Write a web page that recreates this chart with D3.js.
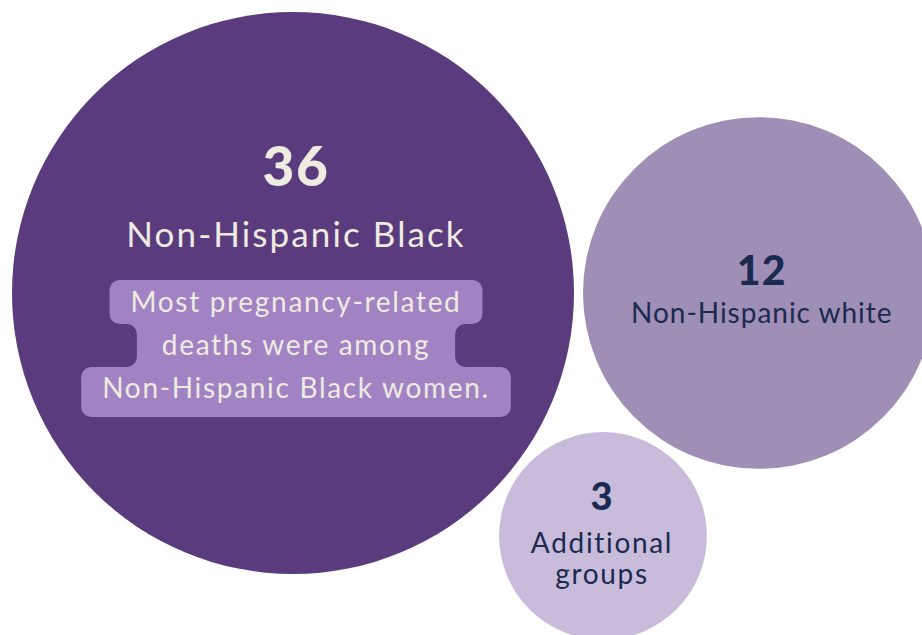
<!DOCTYPE html>
<html>
<head>
<meta charset="utf-8">
<script src="https://cdn.jsdelivr.net/npm/d3@7"></script>
<style>
  html, body { margin: 0; padding: 0; background: #ffffff; }
  svg { display: block; }
  text { font-family: Lato, "Noto Sans", sans-serif; }
  .num { letter-spacing: 0.03em; }
</style>
</head>
<body>
<svg id="chart" width="922" height="635"></svg>
<script>
// Pregnancy-related deaths by race/ethnicity
const groups = ["Non-Hispanic Black", "Non-Hispanic white", "Additional groups"];
const deaths = [36, 12, 3];
const labelLines = [["Non-Hispanic Black"], ["Non-Hispanic white"], ["Additional", "groups"]];
const calloutLines = ["Most pregnancy-related", "deaths were among", "Non-Hispanic Black women."];

const fills = ["#5a3b7d", "#9f8eb5", "#c9bcdb"];
const inks = ["#eeebe0", "#1b2a50", "#1b2a50"];
const calloutFill = "#a183c4";

(function draw() {
  const svg = d3.select("#chart");
  const margin = 12, gap = 9;

  // Bubble radius
  const r = d3.scaleSqrt().domain([0, d3.max(deaths)]).range([32, 281]);

  // Place bubbles: largest at top-left, second to its right, third nestled below between them
  const radii = deaths.map(r);
  const c0 = { x: margin + radii[0], y: margin + radii[0] };
  const c1 = { x: c0.x + radii[0] + radii[1] + gap, y: c0.y };
  const d02 = radii[0] + radii[2] + gap;
  const d12 = radii[1] + radii[2] + gap;
  const d01 = c1.x - c0.x;
  const a = (d02 * d02 - d12 * d12 + d01 * d01) / (2 * d01);
  const h = Math.sqrt(d02 * d02 - a * a);
  const c2 = { x: c0.x + a, y: c0.y + h };
  const centers = [c0, c1, c2];

  const nodes = deaths.map((v, i) => ({
    group: groups[i], value: v, r: radii[i], x: centers[i].x, y: centers[i].y,
    fill: fills[i], ink: inks[i], lines: labelLines[i]
  }));

  svg.selectAll("circle.bubble")
    .data(nodes)
    .join("circle")
    .attr("class", "bubble")
    .attr("cx", d => d.x)
    .attr("cy", d => d.y)
    .attr("r", d => d.r)
    .attr("fill", d => d.fill);

  // Number and group label placement per bubble (offsets from centre)
  const textSpec = [
    { dx: 3, numDy: -107, numSize: 55, labDy: [-46], labSize: 35, track: "0.06em" },
    { dx: 3, numDy: -8, numSize: 41, labDy: [30], labSize: 28, track: "0.035em" },
    { dx: -1, numDy: -26, numSize: 38, labDy: [17, 48], labSize: 28, track: "0.06em" }
  ];

  const g = svg.selectAll("g.label")
    .data(nodes)
    .join("g")
    .attr("class", "label")
    .attr("transform", (d, i) => `translate(${d.x + textSpec[i].dx},${d.y})`);

  g.append("text")
    .attr("class", "num")
    .attr("text-anchor", "middle")
    .attr("y", (d, i) => textSpec[i].numDy)
    .attr("font-size", (d, i) => textSpec[i].numSize)
    .attr("font-weight", 900)
    .attr("fill", d => d.ink)
    .text(d => d.value);

  g.each(function (d, i) {
    const sel = d3.select(this);
    d.lines.forEach((line, k) => {
      sel.append("text")
        .attr("text-anchor", "middle")
        .attr("y", textSpec[i].labDy[k])
        .attr("font-size", textSpec[i].labSize)
        .style("letter-spacing", textSpec[i].track)
        .attr("fill", d.ink)
        .text(line);
    });
  });

  // Callout in the largest bubble: stepped rounded box behind three lines
  const calloutBase = [19, 62, 105];
  const calloutSize = 28;
  const padX = [21, 25, 21], corner = 10;
  const cg = svg.append("g").attr("transform", `translate(${c0.x + textSpec[0].dx},${c0.y})`);
  const boxPath = cg.append("path").attr("fill", calloutFill);
  const calloutText = cg.selectAll("text")
    .data(calloutLines)
    .join("text")
    .attr("text-anchor", "middle")
    .attr("y", (d, i) => calloutBase[i])
    .attr("font-size", calloutSize)
    .style("letter-spacing", "0.06em")
    .attr("fill", inks[0])
    .text(d => d);

  const halfW = [];
  calloutText.each(function (d, i) { halfW.push(this.getBBox().width / 2 + padX[i]); });
  const yTop = calloutBase[0] - 32;
  const b0 = calloutBase[0] + 12;
  const b1 = calloutBase[1] + 12;
  const yBottom = calloutBase[2] + 19;
  const verts = [
    [-halfW[0], yTop], [halfW[0], yTop], [halfW[0], b0], [halfW[1], b0],
    [halfW[1], b1], [halfW[2], b1], [halfW[2], yBottom], [-halfW[2], yBottom],
    [-halfW[2], b1], [-halfW[1], b1], [-halfW[1], b0], [-halfW[0], b0]
  ];
  const p = d3.path();
  const n = verts.length;
  const last = verts[n - 1], first = verts[0];
  p.moveTo((last[0] + first[0]) / 2, (last[1] + first[1]) / 2);
  for (let i = 0; i < n; i++) {
    const prev = verts[(i - 1 + n) % n], cur = verts[i], next = verts[(i + 1) % n];
    const lenPrev = Math.hypot(cur[0] - prev[0], cur[1] - prev[1]);
    const lenNext = Math.hypot(next[0] - cur[0], next[1] - cur[1]);
    const rr = Math.min(corner, lenPrev / 2, lenNext / 2);
    p.arcTo(cur[0], cur[1], next[0], next[1], rr);
  }
  p.closePath();
  boxPath.attr("d", p.toString());
})();
</script>
</body>
</html>
